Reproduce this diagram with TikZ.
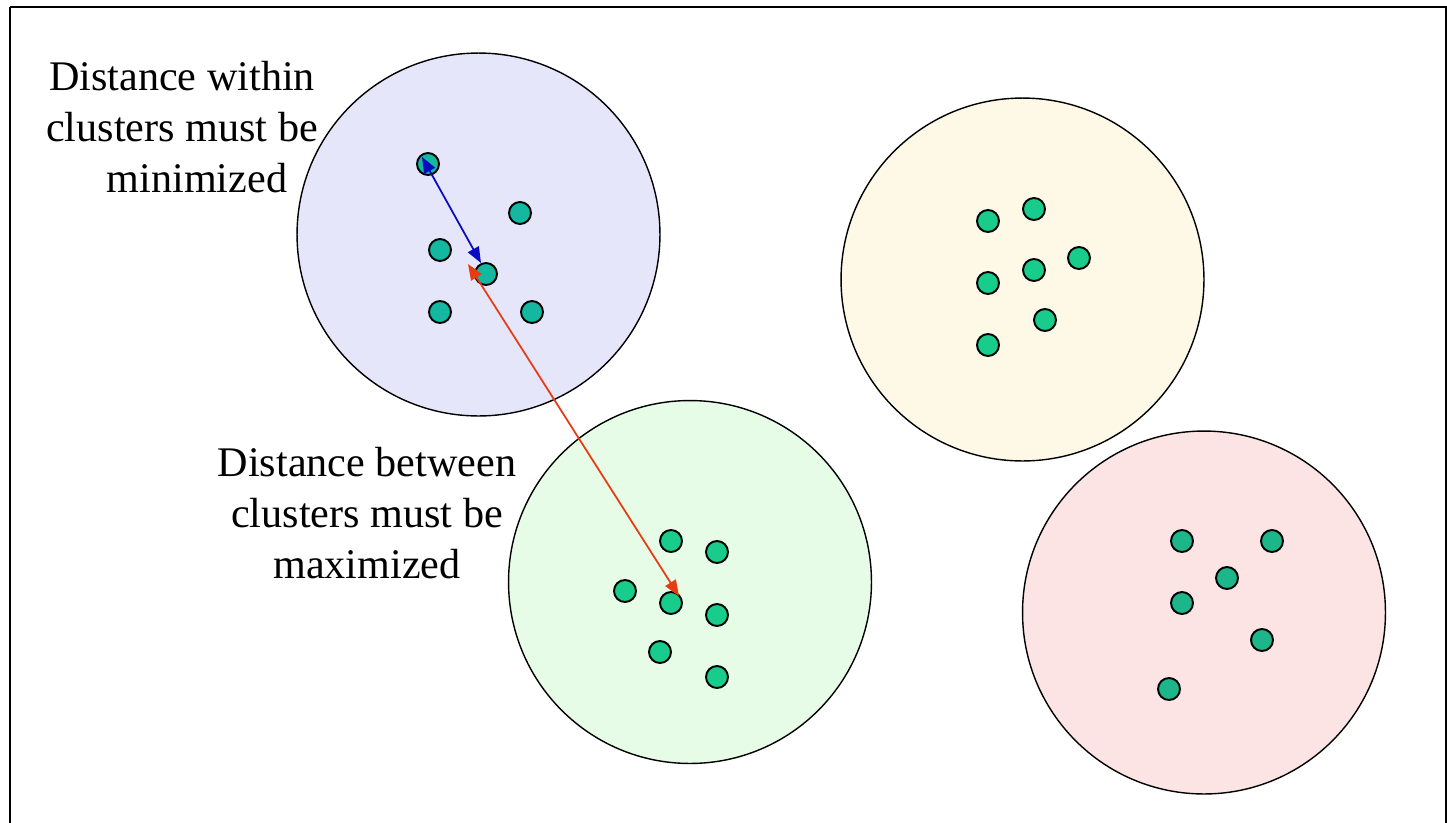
\documentclass[tikz,border=0pt]{standalone}
\usepackage{fontspec}
\setmainfont{Liberation Serif}
\usetikzlibrary{arrows.meta}
\definecolor{cblue}{HTML}{E6E6FA}
\definecolor{cyellow}{HTML}{FEF8E7}
\definecolor{cgreen}{HTML}{E6FCE6}
\definecolor{cpink}{HTML}{FCE4E4}
\definecolor{dteal}{HTML}{14B8A0}
\definecolor{dgreen}{HTML}{18CC8C}
\definecolor{dpink}{HTML}{1CB68A}
\definecolor{ablue}{HTML}{0A0AC0}
\definecolor{ared}{HTML}{E63C14}
\begin{document}
\begin{tikzpicture}[x=0.02cm,y=-0.02cm,
  cluster/.style={circle,draw=black,line width=0.8pt,minimum size=7.26cm,inner sep=0pt},
  dot/.style={circle,draw=black,line width=1.1pt,minimum size=0.44cm,inner sep=0pt},
  lbl/.style={align=center,font=\fontsize{24}{29}\selectfont,inner sep=0pt},
  dbl/.style={{Triangle[length=9pt,width=7pt]}-{Triangle[length=9pt,width=7pt]},line width=1pt}]
\useasboundingbox (0,0) rectangle (1447,822);
\begin{scope}
\clip (0,0) rectangle (1447,822);
\draw[line width=1.2pt] (10,7) -- (1446,7) -- (1446,840) (10,840) -- (10,7);
\end{scope}
% clusters
\node[cluster,fill=cblue] (cb) at (478.5,234.5) {};
\node[cluster,fill=cyellow] (cy) at (1022.5,279.5) {};
\node[cluster,fill=cgreen] (cg) at (690,582) {};
\node[cluster,fill=cpink] (cp) at (1204,612.5) {};
% blue cluster dots
\foreach \n/\x/\y in {b1/428/164,b2/520/213,b3/440/250,b4/486/274,b5/440/312,b6/532/312}
  \node[dot,fill=dteal] (\n) at (\x,\y) {};
% yellow cluster dots
\foreach \n/\x/\y in {y1/988/221,y2/1034/209,y3/988/283,y4/1034/270,y5/1079/258,y6/1045/320,y7/988/345}
  \node[dot,fill=dgreen] (\n) at (\x,\y) {};
% green cluster dots
\foreach \n/\x/\y in {g1/671/541,g2/717/552,g3/625/591,g4/671/603,g5/717/615,g6/660/652,g7/717/677}
  \node[dot,fill=dgreen] (\n) at (\x,\y) {};
% pink cluster dots
\foreach \n/\x/\y in {p1/1182/541,p2/1272/541,p3/1227/578,p4/1182/603,p5/1262/640,p6/1169/689}
  \node[dot,fill=dpink] (\n) at (\x,\y) {};
% arrows
\coordinate (ba) at (422,157);
\coordinate (bb) at (481,263);
\coordinate (ra) at (468,264);
\coordinate (rb) at (679,596);
\draw[dbl,ablue] (ba) -- (bb);
\draw[dbl,ared] (ra) -- (rb);
% labels
\node[lbl] (l1) at (182,127) {Distance within\\clusters must be\\\hspace*{0.6cm}minimized};
\node[lbl] (l2) at (367,513) {Distance between\\clusters must be\\maximized};
\end{tikzpicture}
\end{document}
